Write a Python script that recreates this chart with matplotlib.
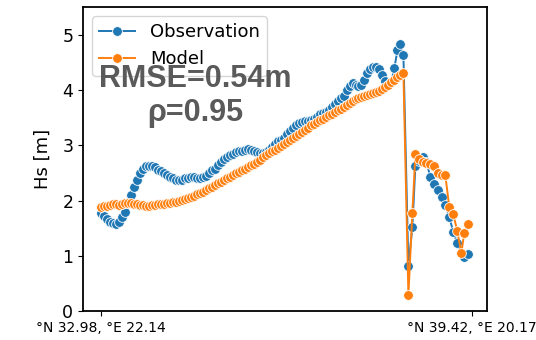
"""
Along-track significant wave height: altimeter observation vs. model.

Outputs: out.png
"""

import matplotlib
matplotlib.use("Agg")
import matplotlib.pyplot as plt

# ── Data ────────────────────────────────────────────────────────────────
# along-track distance from the first sample (km)
dist_km = [
    0, 3, 6, 9, 12, 15, 18, 21, 24, 27, 30, 33, 36, 39, 42, 45, 48, 51, 54, 57,
    60, 63, 66, 69, 72, 75, 78, 81, 84, 87, 90, 93, 96, 99, 102, 105, 108, 111,
    114, 117, 120, 123, 126, 129, 132, 135, 138, 141, 144, 147, 150, 153, 156,
    159, 162, 165, 168, 171, 174, 177, 180, 183, 186, 189, 192, 195, 198, 201,
    204, 207, 210, 213, 216, 219, 222, 225, 228, 231, 234, 237, 240, 243, 246,
    249, 252, 255, 258, 261, 264, 267, 270, 273, 276, 279, 282, 285, 288, 291,
    294, 297, 300, 303,
    308, 312, 315, 319, 323, 326, 330, 334, 338, 342, 345, 349, 353, 357, 361,
    364, 368,
]

hs_obs = [
    1.78, 1.72, 1.66, 1.62, 1.60, 1.58, 1.62, 1.70, 1.80, 1.95, 2.10, 2.25,
    2.38, 2.50, 2.57, 2.62, 2.63, 2.62, 2.60, 2.56, 2.53, 2.50, 2.47, 2.43,
    2.40, 2.38, 2.37, 2.38, 2.40, 2.41, 2.42, 2.42, 2.41, 2.40, 2.42, 2.45,
    2.50, 2.55, 2.58, 2.64, 2.70, 2.75, 2.79, 2.82, 2.85, 2.87, 2.89, 2.90,
    2.92, 2.93, 2.92, 2.90, 2.88, 2.86, 2.86, 2.88, 2.92, 2.97, 3.02, 3.07,
    3.10, 3.14, 3.20, 3.26, 3.32, 3.37, 3.41, 3.43, 3.44, 3.44, 3.45, 3.48,
    3.52, 3.56, 3.58, 3.60, 3.64, 3.70, 3.75, 3.80, 3.85, 3.90, 4.00, 4.08,
    4.12, 4.10, 4.08, 4.10, 4.18, 4.30, 4.38, 4.42, 4.42, 4.38, 4.27, 4.17,
    4.10, 4.15, 4.40, 4.72, 4.84, 4.64,
    0.82, 1.52, 2.63, 2.72, 2.79, 2.70, 2.43, 2.30, 2.20, 2.07, 1.92, 1.70,
    1.43, 1.23, 1.05, 0.97, 1.03,
]

hs_model = [
    1.88, 1.90, 1.91, 1.92, 1.93, 1.93, 1.92, 1.94, 1.95, 1.96, 1.95, 1.94,
    1.93, 1.92, 1.92, 1.91, 1.91, 1.92, 1.92, 1.93, 1.94, 1.94, 1.95, 1.96,
    1.97, 1.98, 2.00, 2.01, 2.03, 2.05, 2.07, 2.09, 2.11, 2.13, 2.16, 2.19,
    2.22, 2.25, 2.28, 2.31, 2.34, 2.37, 2.40, 2.43, 2.46, 2.49, 2.52, 2.55,
    2.58, 2.61, 2.64, 2.67, 2.70, 2.74, 2.78, 2.82, 2.86, 2.89, 2.92, 2.95,
    2.98, 3.02, 3.06, 3.09, 3.13, 3.16, 3.20, 3.24, 3.28, 3.32, 3.36, 3.39,
    3.42, 3.45, 3.48, 3.51, 3.54, 3.57, 3.60, 3.63, 3.66, 3.70, 3.73, 3.76,
    3.80, 3.83, 3.85, 3.87, 3.89, 3.91, 3.93, 3.95, 3.97, 3.99, 4.02, 4.06,
    4.10, 4.14, 4.19, 4.24, 4.28, 4.31,
    0.29, 1.78, 2.84, 2.75, 2.70, 2.68, 2.66, 2.62, 2.50, 2.46, 2.46, 1.88,
    1.75, 1.45, 1.05, 1.41, 1.57,
]

tick_km = [0, 372]
tick_labels = ["°N 32.98, °E 22.14", "°N 39.42, °E 20.17"]

rmse = 0.54
rho = 0.95


def plot():
    fig, ax = plt.subplots(figsize=(5.36, 3.4), dpi=100)
    fig.subplots_adjust(left=0.155, right=0.909, top=0.979, bottom=0.085)

    style = dict(marker="o", markersize=7, markeredgecolor="white",
                 markeredgewidth=0.6, linewidth=1.4)
    ax.plot(dist_km, hs_obs, color="#1f77b4", label="Observation", **style)
    ax.plot(dist_km, hs_model, color="#ff7f0e", label="Model", **style)

    ax.set_xlim(-18, 387)
    ax.set_ylim(0, 5.5)
    ax.set_xticks(tick_km)
    ax.set_xticklabels(tick_labels, fontsize=10)
    ax.tick_params(axis="y", labelsize=12.5)
    ax.set_ylabel("Hs [m]", fontsize=13, labelpad=8)

    for s in ax.spines.values():
        s.set_linewidth(1.3)

    ax.legend(loc="upper left", fontsize=13)

    # error statistics, drawn over the legend
    stats = dict(transform=ax.transAxes, ha="center", va="center",
                 fontsize=22, fontweight="bold", color="#5a5a5a",
                 family="Liberation Sans", zorder=10)
    ax.text(0.277, 0.763, f"RMSE={rmse:.2f}m", **stats)
    ax.text(0.277, 0.651, f"ρ={rho:.2f}", **stats)

    fig.savefig("out.png", dpi=100)
    return fig


if __name__ == "__main__":
    plot()
